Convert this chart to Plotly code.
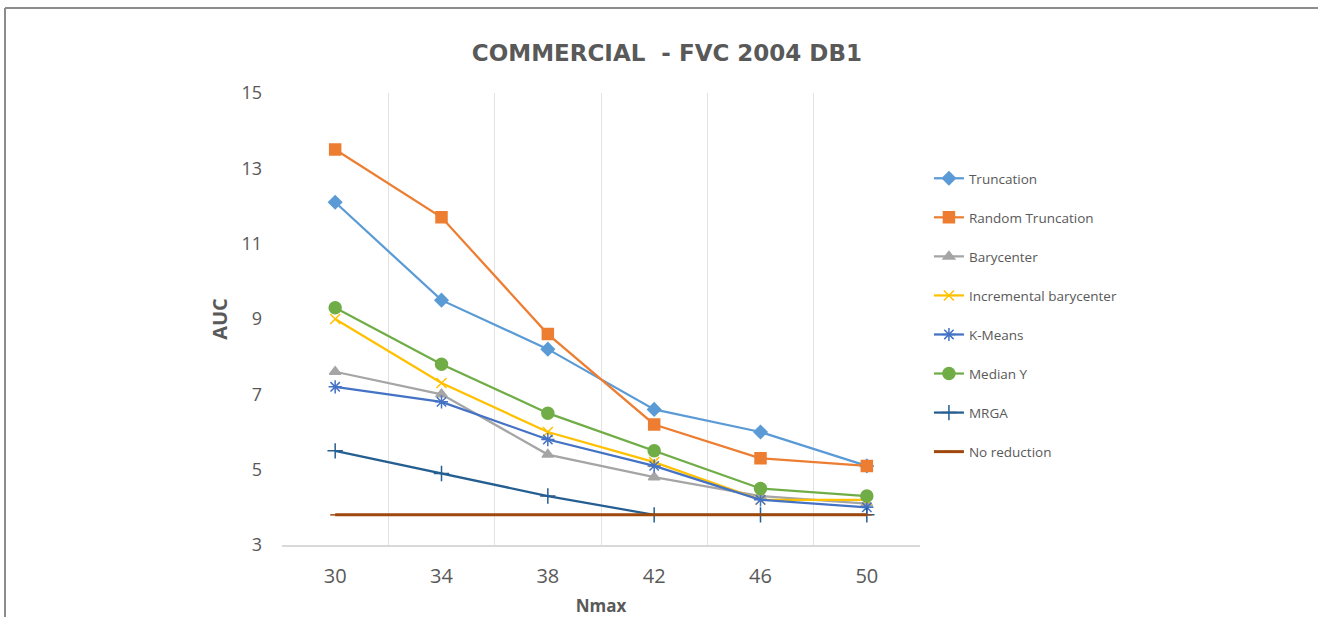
import plotly.graph_objects as go

# Nmax values on the horizontal axis
nmax = [30, 34, 38, 42, 46, 50]

truncation = [12.1, 9.5, 8.2, 6.6, 6.0, 5.1]
random_truncation = [13.5, 11.7, 8.6, 6.2, 5.3, 5.1]
barycenter = [7.6, 7.0, 5.4, 4.8, 4.3, 4.1]
incremental_barycenter = [9.0, 7.3, 6.0, 5.2, 4.2, 4.2]
k_means = [7.2, 6.8, 5.8, 5.1, 4.2, 4.0]
median_y = [9.3, 7.8, 6.5, 5.5, 4.5, 4.3]
mrga = [5.5, 4.9, 4.3, 3.8, 3.8, 3.8]
no_reduction = [3.8, 3.8, 3.8, 3.8, 3.8, 3.8]

y_ticks = [3, 5, 7, 9, 11, 13, 15]

series = [
    ("Truncation", truncation, "#5B9BD5", "diamond", 10, 2.25),
    ("Random Truncation", random_truncation, "#ED7D31", "square", 11, 2.25),
    ("Barycenter", barycenter, "#A5A5A5", "triangle-up", 10, 2.25),
    ("Incremental barycenter", incremental_barycenter, "#FFC000", "x-thin-open", 10, 2.25),
    ("K-Means", k_means, "#4472C4", "asterisk-open", 11, 2.25),
    ("Median Y", median_y, "#70AD47", "circle", 12, 2.25),
    ("MRGA", mrga, "#255E91", "cross-thin-open", 11, 2.25),
    ("No reduction", no_reduction, "#9E480E", "line-ew-open", 7, 3),
]

fig = go.Figure()
for i, (name, vals, color, symbol, size, lw) in enumerate(series):
    fig.add_trace(go.Scatter(
        x=nmax, y=vals, name=name, mode="lines+markers",
        legendgroup=f"g{i}",
        line=dict(color=color, width=lw),
        marker=dict(symbol=symbol, size=size, color=color,
                    line=dict(color=color, width=1.5)),
    ))

font_family = "Open Sans, Lato, sans-serif"
text_color = "#595959"

fig.update_layout(
    width=1318, height=617,
    margin=dict(l=282, r=398, t=93, b=72, autoexpand=False),
    paper_bgcolor="white", plot_bgcolor="white",
    font=dict(family=font_family, color=text_color),
    title=dict(text="<b>COMMERCIAL  - FVC 2004 DB1</b>", x=0.506, xanchor="center",
               y=1 - 53 / 617, yanchor="middle", yref="container",
               font=dict(size=23, color=text_color, family="DejaVu Sans, sans-serif")),
    showlegend=True,
    legend=dict(x=1.014, y=(545 - 163) / 452, xanchor="left", yanchor="top",
                font=dict(size=13.5, color=text_color), tracegroupgap=18.5,
                itemwidth=30, bgcolor="rgba(0,0,0,0)"),
    xaxis=dict(range=[28, 52], tickvals=nmax, showgrid=False, zeroline=False,
               automargin=False,
               showline=True, linecolor="#D9D9D9", linewidth=1.5,
               ticks="", tickfont=dict(size=20, color=text_color), ticklabelstandoff=12,
               minor=dict(tick0=28, dtick=4, showgrid=True, gridcolor="#E3E3E3", gridwidth=1),
               title=dict(text="<b>Nmax</b>", font=dict(size=17, color=text_color), standoff=12)),
    yaxis=dict(range=[3, 15], tickvals=y_ticks, showgrid=False, zeroline=False,
               automargin=False,
               showline=False, ticks="", tickfont=dict(size=18, color=text_color),
               ticklabelstandoff=19,
               title=dict(text="<b>AUC</b>", font=dict(size=20, color=text_color), standoff=8)),
)

# outer frame along the top and left edges
fig.add_shape(type="line", xref="paper", yref="paper",
              x0=(5 - 282) / 638, x1=(1318 - 282) / 638, y0=(545 - 8) / 452, y1=(545 - 8) / 452,
              line=dict(color="#8C8C8C", width=2))
fig.add_shape(type="line", xref="paper", yref="paper",
              x0=(5 - 282) / 638, x1=(5 - 282) / 638, y0=(545 - 8) / 452, y1=(545 - 617) / 452,
              line=dict(color="#8C8C8C", width=2))

fig.write_html("out.html")
